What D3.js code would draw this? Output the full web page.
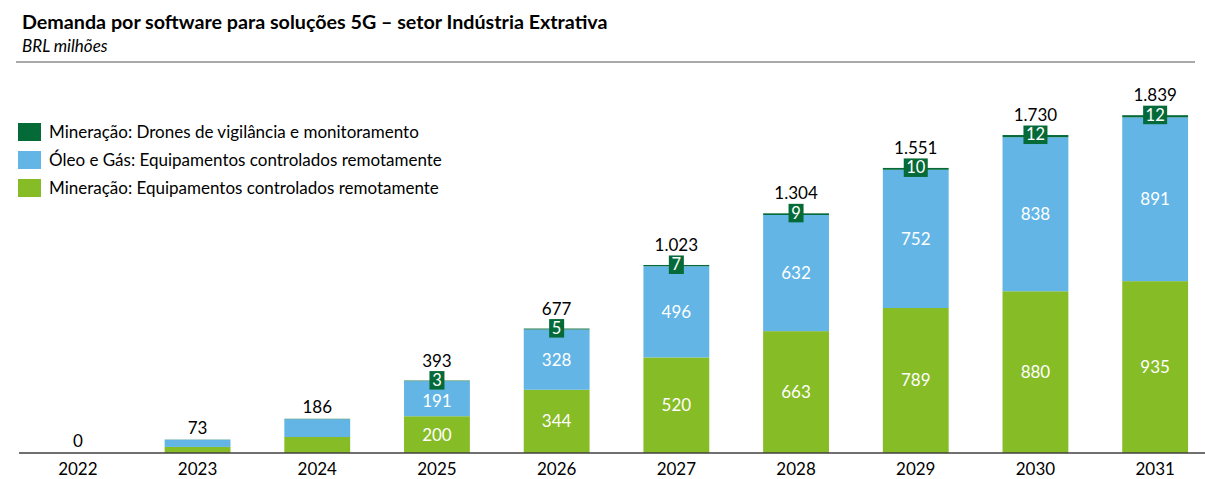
<!DOCTYPE html>
<html>
<head>
<meta charset="utf-8">
<script src="https://cdn.jsdelivr.net/npm/d3@7"></script>
<style>
  body { margin: 0; background: #fff; }
  text { font-family: Lato, "Open Sans", sans-serif; }
</style>
</head>
<body>
<svg id="chart" width="1205" height="479"></svg>
<script>
// data
var years     = ["2022","2023","2024","2025","2026","2027","2028","2029","2030","2031"];
var mineEquip = [0, 33, 87, 200, 344, 520, 663, 789, 880, 935];
var oilEquip  = [0, 39, 97, 191, 328, 496, 632, 752, 838, 891];
var drones    = [0, 1, 2, 3, 5, 7, 9, 10, 12, 12];
var totals    = [0, 73, 186, 393, 677, 1023, 1304, 1551, 1730, 1839];

var seriesNames = [
  "Mineração: Equipamentos controlados remotamente",
  "Óleo e Gás: Equipamentos controlados remotamente",
  "Mineração: Drones de vigilância e monitoramento"
];
var colors = ["#86BC25", "#62B5E5", "#046A38"];

var ptBR = d3.formatLocale({decimal: ",", thousands: ".", grouping: [3], currency: ["R$", ""]});
var fmt = ptBR.format(",");

var svg = d3.select("#chart");

// header
svg.append("text")
   .attr("x", 22).attr("y", 29)
   .attr("font-size", 19.7).attr("font-weight", "bold")
   .attr("fill", "#000")
   .text("Demanda por software para soluções 5G – setor Indústria Extrativa");
svg.append("text")
   .attr("x", 22).attr("y", 52)
   .attr("font-size", 17).attr("font-style", "italic")
   .attr("fill", "#000")
   .text("BRL milhões");
svg.append("line")
   .attr("x1", 16).attr("x2", 1195)
   .attr("y1", 62).attr("y2", 62)
   .attr("stroke", "#8c8c8c").attr("stroke-width", 1.5);

// scales
var x = d3.scaleBand().domain(years).range([18, 1215])
          .paddingInner(0.45).paddingOuter(0.225);
var y = d3.scaleLinear().domain([0, 1839]).range([453, 115]);

// stack table built from the arrays
var table = years.map(function(yr, i){
  return {year: yr, mine: mineEquip[i], oil: oilEquip[i], drone: drones[i], total: totals[i]};
});
var stack = d3.stack().keys(["mine", "oil", "drone"]);
var layers = stack(table);

var groups = svg.selectAll("g.layer").data(layers).enter()
  .append("g").attr("class", "layer")
  .attr("fill", function(d, i){ return colors[i]; });

groups.selectAll("rect").data(function(d){ return d; }).enter()
  .append("rect")
  .attr("x", function(d){ return x(d.data.year); })
  .attr("width", x.bandwidth())
  .attr("y", function(d){ return y(d[1]); })
  .attr("height", function(d){ return Math.max(0, y(d[0]) - y(d[1])); });

// white labels inside green and blue segments
// short segments get nudged down a bit so the drone box doesnt touch the label
[0, 1].forEach(function(li){
  svg.append("g").selectAll("text").data(layers[li].filter(function(d){ return d.data.total >= 300; }))
    .enter().append("text")
    .attr("x", function(d){ return x(d.data.year) + x.bandwidth()/2; })
    .attr("y", function(d){
      var h = y(d[0]) - y(d[1]);
      return (y(d[0]) + y(d[1]))/2 + (li == 1 && h < 40 ? 2.5 : 0);
    })
    .attr("dy", "0.35em")
    .attr("text-anchor", "middle")
    .attr("font-size", 17)
    .attr("fill", "#fff")
    .text(function(d){ return fmt(d[1] - d[0]); });
});

// drone labels in small dark boxes at bar top
var droneData = layers[2].filter(function(d){ return d.data.drone >= 3; });
var droneG = svg.append("g").selectAll("g").data(droneData).enter().append("g")
  .attr("transform", function(d){
    return "translate(" + (x(d.data.year) + x.bandwidth()/2) + "," + y(d[1]) + ")";
  });
droneG.append("rect")
  .attr("fill", colors[2])
  .attr("y", -9.5).attr("height", 18.5)
  .attr("x", function(d){ return String(d.data.drone).length > 1 ? -12 : -7.5; })
  .attr("width", function(d){ return String(d.data.drone).length > 1 ? 24 : 15; });
droneG.append("text")
  .attr("text-anchor", "middle").attr("dy", "0.33em")
  .attr("font-size", 16.5).attr("fill", "#fff")
  .text(function(d){ return d.data.drone; });

// totals above bars
svg.append("g").selectAll("text").data(table).enter()
  .append("text")
  .attr("x", function(d){ return x(d.year) + x.bandwidth()/2; })
  .attr("y", function(d){ return y(d.total) - (d.drone >= 3 ? 20 : 12); })
  .attr("dy", "0.35em")
  .attr("text-anchor", "middle")
  .attr("font-size", 17).attr("fill", "#000")
  .text(function(d){ return fmt(d.total); });

// x axis
var xAxis = svg.append("g")
  .attr("transform", "translate(0," + y(0) + ")")
  .call(d3.axisBottom(x).tickSize(0).tickPadding(10));
xAxis.select(".domain").attr("d", "M19,0H1205").attr("stroke", "#404040").attr("stroke-width", 1.5);
xAxis.selectAll("text").attr("font-size", 17).attr("fill", "#000")
  .style("font-family", "Lato, 'Open Sans', sans-serif");

// legend
var legendOrder = [2, 1, 0];
var legend = svg.append("g").selectAll("g").data(legendOrder).enter().append("g")
  .attr("transform", function(d, i){ return "translate(18," + (123 + i*28) + ")"; });
legend.append("rect")
  .attr("width", 23).attr("height", 18)
  .attr("fill", function(d){ return colors[d]; });
legend.append("text")
  .attr("x", 31).attr("y", 9).attr("dy", "0.35em")
  .attr("font-size", 17).attr("fill", "#000")
  .text(function(d){ return seriesNames[d]; });
</script>
</body>
</html>
